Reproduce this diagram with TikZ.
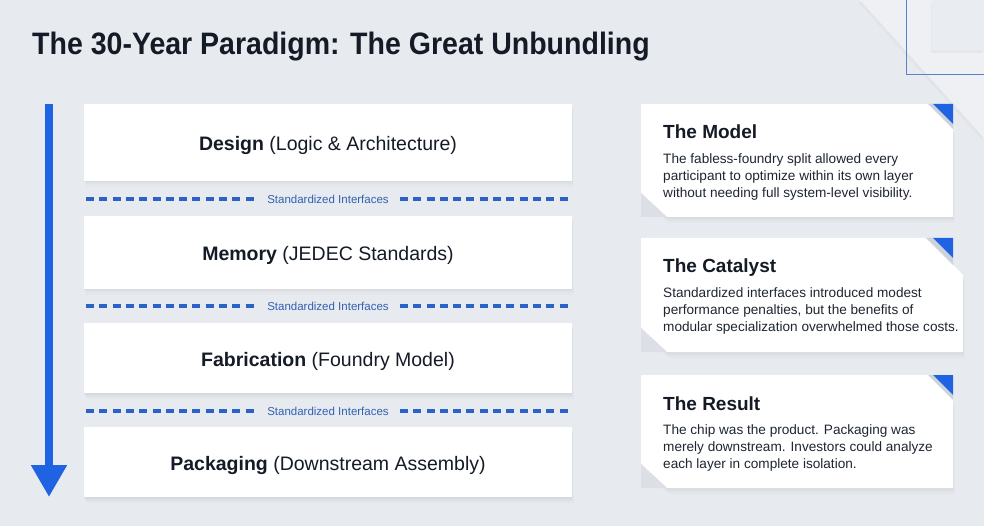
\documentclass[tikz,border=0pt]{standalone}
\usepackage{fontspec}
\setmainfont{Liberation Sans}
\newfontfamily\titlefont[FakeStretch=0.92]{Liberation Sans}
\usetikzlibrary{arrows.meta,shadows,positioning}

\definecolor{pagebg}{HTML}{E7EAEE}
\definecolor{inkdark}{HTML}{141B26}
\definecolor{inkbody}{HTML}{1F2631}
\definecolor{accent}{HTML}{1F63E3}
\definecolor{dashblue}{HTML}{2A62C9}
\definecolor{ifaceblue}{HTML}{3161B3}
\definecolor{foldgrey}{HTML}{DCE0E6}
\definecolor{stripgrey}{HTML}{CDD3DA}
\definecolor{framegrey}{HTML}{5B82C6}

\tikzset{
  softshadow/.style={
    drop shadow={shadow xshift=0pt,shadow yshift=-1.5pt,opacity=.07},
    drop shadow={shadow xshift=1pt,shadow yshift=-3.5pt,opacity=.05},
    drop shadow={shadow xshift=1.5pt,shadow yshift=-6pt,opacity=.03}},
  layerbox/.style={fill=white,minimum width=488pt,inner sep=0pt,
    text height=21pt,text depth=4pt,
    font=\fontsize{19.5}{22}\selectfont,text=inkdark,softshadow},
  ifacelabel/.style={fill=pagebg,inner xsep=11pt,inner ysep=1pt,
    font=\fontsize{11.5}{13}\selectfont,text=ifaceblue},
  ifaceline/.style={draw=dashblue,line width=3.3pt,dash pattern=on 8pt off 5.3pt},
  flowarrow/.style={draw=accent,line width=8pt,-{Triangle[length=32pt,width=34pt]}},
  cardtitle/.style={anchor=base west,inner sep=0pt,text=inkdark,
    font=\bfseries\fontsize{19}{22}\selectfont},
  cardtext/.style={anchor=north west,inner sep=0pt,align=left,text=inkbody,
    font=\fontsize{13.6}{17}\selectfont}
}

\begin{document}
\begin{tikzpicture}[x=1pt,y=-1pt]
\fill[pagebg] (0,0) rectangle (984,526);
\useasboundingbox (0,0) rectangle (984,526);

% corner decoration
\fill[pagebg!70!white,drop shadow={shadow xshift=-2pt,shadow yshift=-2pt,opacity=.05}] (860,0) -- (984,0) -- (984,138) -- cycle;
\fill[pagebg!90!white,drop shadow={shadow xshift=-1pt,shadow yshift=-3pt,opacity=.08}] (932,0) rectangle (984,50);
\draw[framegrey,line width=1pt] (906,0) -- (906,75) -- (984,75);

% title
\node[anchor=base west,inner sep=0pt,text=inkdark,font=\titlefont\bfseries\fontsize{31}{36}\selectfont] (title) at (32,55) {The 30-Year Paradigm: The Great Unbundling};

% flow arrow
\coordinate (flowtop) at (49,104);
\coordinate (flowend) at (49,497);
\draw[flowarrow] (flowtop) -- (flowend);

% layers
\node[layerbox,minimum height=77pt] (design) at (328,142.5) {\textbf{Design} (Logic \& Architecture)};
\node[layerbox,minimum height=73pt] (memory) at (328,252.5) {\textbf{Memory} (JEDEC Standards)};
\node[layerbox,minimum height=70pt] (fab) at (328,358) {\textbf{Fabrication} (Foundry Model)};
\node[layerbox,minimum height=70pt] (pack) at (328,462) {\textbf{Packaging} (Downstream Assembly)};

% interfaces
\foreach \n/\y in {1/199,2/306,3/411} {
  \coordinate (ifl\n) at (86,\y);
  \coordinate (ifr\n) at (572,\y);
  \node[ifacelabel] (iface\n) at (328,\y) {Standardized Interfaces};
  \draw[ifaceline] (ifl\n) -- (iface\n.west);
  \draw[ifaceline] (iface\n.east) -- (ifr\n);
}

% cards
\foreach \t/\b/\r/\cx in {104/217/953/928,238/352/963/926,375/488/953/928} {
  \fill[white,softshadow] (641,\t) -- (\cx,\t) -- (\r,{\t+\r-\cx}) -- (\r,\b) -- (667,\b) -- (641,{\b-24}) -- cycle;
  \fill[foldgrey] (641,{\b-24}) -- (667,\b) -- (641,\b) -- cycle;
  \fill[stripgrey] (\cx,\t) -- (933,\t) -- (953,{\t+20}) -- (953,{\t+953-\cx}) -- cycle;
  \fill[accent] (933,\t) -- (953,\t) -- (953,{\t+20}) -- cycle;
}

\node[cardtitle] (modelhd) at (663,139) {The Model};
\node[cardtext] (modeltx) at (663,153) {The fabless-foundry split allowed every\\participant to optimize within its own layer\\without needing full system-level visibility.};

\node[cardtitle] (catalysthd) at (663,273) {The Catalyst};
\node[cardtext] (catalysttx) at (663,287) {Standardized interfaces introduced modest\\performance penalties, but the benefits of\\modular specialization overwhelmed those costs.};

\node[cardtitle] (resulthd) at (663,410) {The Result};
\node[cardtext] (resulttx) at (663,424) {The chip was the product. Packaging was\\merely downstream. Investors could analyze\\each layer in complete isolation.};
\end{tikzpicture}
\end{document}
